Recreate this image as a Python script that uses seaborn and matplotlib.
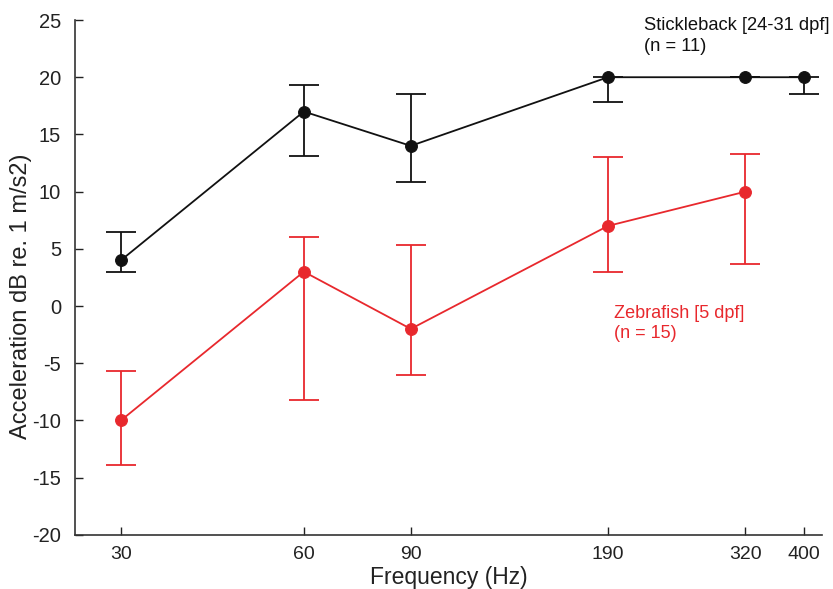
import matplotlib
matplotlib.use("Agg")
import matplotlib.pyplot as plt
import seaborn as sns
import numpy as np
import pandas as pd
from matplotlib.ticker import FixedLocator, NullLocator

sns.set_theme(style="ticks")
plt.rcParams['font.family'] = ['Liberation Sans', 'DejaVu Sans']

freq_stick = [30, 60, 90, 190, 320, 400]
stick_mean = [4, 17, 14, 20, 20, 20]
stick_low = [3, 13.1, 10.8, 17.8, 20, 18.5]
stick_high = [6.5, 19.3, 18.5, 20, 20, 20]

freq_zebra = [30, 60, 90, 190, 320]
zebra_mean = [-10, 3, -2, 7, 10]
zebra_low = [-13.9, -8.2, -6, 3, 3.7]
zebra_high = [-5.7, 6, 5.3, 13, 13.3]

xticks = [30, 60, 90, 190, 320, 400]
yticks = list(range(-20, 30, 5))

black = "#111111"
red = "#e8282d"

fig = plt.figure(figsize=(8.33, 5.89), dpi=100)
ax = fig.add_axes([0.090, 0.092, 0.897, 0.874])

df_s = pd.DataFrame({"f": freq_stick, "v": stick_mean})
df_z = pd.DataFrame({"f": freq_zebra, "v": zebra_mean})

for df, lo, hi, col in [(df_s, stick_low, stick_high, black), (df_z, zebra_low, zebra_high, red)]:
    m = np.array(df["v"], dtype=float)
    yerr = np.vstack([m - np.array(lo), np.array(hi) - m])
    ax.errorbar(df["f"], m, yerr=yerr, fmt="none", ecolor=col, elinewidth=1.3,
                capsize=11, capthick=1.3, zorder=2)
    sns.lineplot(data=df, x="f", y="v", ax=ax, color=col, marker="o", markersize=8.5,
                 markeredgecolor=col, linewidth=1.3, zorder=3)

ax.set_xscale("log")
ax.set_xlim(25.2, 428)
ax.set_ylim(-20, 25)
ax.xaxis.set_major_locator(FixedLocator(xticks))
ax.xaxis.set_minor_locator(NullLocator())
ax.set_xticklabels([str(t) for t in xticks])
ax.set_yticks(yticks)
ax.set_yticklabels([str(t) for t in yticks])
ax.tick_params(direction="in", length=6, width=1.0, colors="#222222",
               labelcolor="#222222")
ax.tick_params(axis="x", pad=8, labelsize=14)
ax.tick_params(axis="y", pad=10, labelsize=14.5)
for s in ["top", "right"]:
    ax.spines[s].set_visible(False)
for s in ["left", "bottom"]:
    ax.spines[s].set_linewidth(1.2)
    ax.spines[s].set_color("#333333")

ax.set_xlabel("Frequency (Hz)", fontsize=16.5, color="#222222", labelpad=2)
ax.set_ylabel("Acceleration dB re. 1 m/s2)", fontsize=17, color="#222222")
ax.yaxis.set_label_coords(-0.058, 0.464)

ax.text(0.762, 1.005, "Stickleback [24-31 dpf]\n(n = 11)", transform=ax.transAxes,
        fontsize=13.2, color="#111111", va="top", ha="left", linespacing=1.28)
ax.text(0.721, 0.447, "Zebrafish [5 dpf]\n(n = 15)", transform=ax.transAxes,
        fontsize=13, color=red, va="top", ha="left", linespacing=1.25)

fig.savefig("out.png", dpi=100)
